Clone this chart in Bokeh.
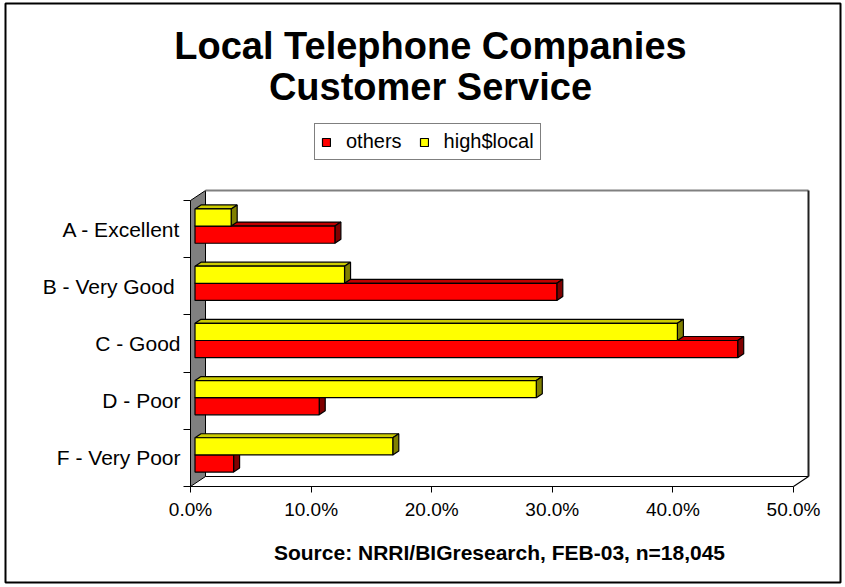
from bokeh.plotting import figure
from bokeh.models import (Range1d, FixedTicker, NumeralTickFormatter, Label,
                          Legend, LegendItem, BoxAnnotation, ColumnDataSource)
from bokeh.embed import file_html
from bokeh.resources import INLINE

# ---------------- data ----------------
categories = ["A - Excellent", "B -  Very Good", "C - Good", "D - Poor", "F - Very Poor"]
others = [0.116, 0.300, 0.450, 0.103, 0.032]
high_local = [0.030, 0.124, 0.400, 0.283, 0.164]
series_names = ["others", "high$local"]
x_ticks = [0.0, 0.1, 0.2, 0.3, 0.4, 0.5]
title_lines = ["Local Telephone Companies", "Customer Service"]
source_text = "Source: NRRI/BIGresearch, FEB-03, n=18,045"

# ---------------- layout helpers ----------------
W, H = 845, 587
X0_PX, X_PX_PER = 190.0, 1206.0     # pixel of 0 %, pixels per unit (100 %)
Y0_PX, Y_PX_PER = 486.0, 57.2       # pixel of bottom category edge, pixels per category


def px2x(px):
    return (px - X0_PX) / X_PX_PER


def py2y(py):
    return (Y0_PX - py) / Y_PX_PER


DX = 15.0 / X_PX_PER   # depth offset (x)
DY = 10.0 / Y_PX_PER   # depth offset (y)
FD, BD = 0.3, 0.7      # bar front / back depth fractions
BAR_H = 0.3
FONT = "Liberation Sans"

n = len(categories)
y_centers = [n - 0.5 - i for i in range(n)]
x_max = x_ticks[-1]

p = figure(width=W, height=H,
           x_range=Range1d(px2x(0), px2x(W)), y_range=Range1d(py2y(H), py2y(0)),
           min_border=0, toolbar_location=None, output_backend="svg",
           background_fill_color="white", border_fill_color="white")
p.outline_line_color = None
p.xgrid.visible = False
p.ygrid.visible = False

# ---------------- walls / floor ----------------
p.patch([0, DX, DX, 0], [0, DY, n + DY, n], fill_color="#808080",
        line_color="black", line_width=1)
p.segment(x0=[DX], y0=[n + DY], x1=[x_max + DX], y1=[n + DY],
          line_color="#808080", line_width=2)
p.segment(x0=[x_max + DX], y0=[n + DY], x1=[x_max + DX], y1=[DY],
          line_color="#202020", line_width=2)
p.segment(x0=[DX, x_max + DX, 0], y0=[DY, DY, 0],
          x1=[x_max + DX, x_max, x_max], y1=[DY, 0, 0],
          line_color="black", line_width=1.2)


# ---------------- 3D bars ----------------
def bar_faces(values, off):
    centers, lefts, rights = [], [], []
    top_xs, top_ys, side_xs, side_ys = [], [], [], []
    for v, yc in zip(values, y_centers):
        c = yc + off
        top = c + BAR_H / 2
        bot = c - BAR_H / 2
        centers.append(c + FD * DY)
        lefts.append(FD * DX)
        rights.append(v + FD * DX)
        top_xs.append([FD * DX, v + FD * DX, v + BD * DX, BD * DX])
        top_ys.append([top + FD * DY, top + FD * DY, top + BD * DY, top + BD * DY])
        side_xs.append([v + FD * DX, v + BD * DX, v + BD * DX, v + FD * DX])
        side_ys.append([bot + FD * DY, bot + BD * DY, top + BD * DY, top + FD * DY])
    front = ColumnDataSource(dict(y=centers, left=lefts, right=rights))
    return front, (top_xs, top_ys), (side_xs, side_ys)


series = [
    (others, -BAR_H / 2, "#FF0000", "#C00000", "#800000"),
    (high_local, BAR_H / 2, "#FFFF00", "#CCCC00", "#808000"),
]
front_renderers = []
for values, off, c_front, c_top, c_side in series:
    front, (txs, tys), (sxs, sys_) = bar_faces(values, off)
    p.patches(txs, tys, fill_color=c_top, line_color="black", line_width=1.2)
    p.patches(sxs, sys_, fill_color=c_side, line_color="black", line_width=1.2)
    r = p.hbar(y="y", left="left", right="right", height=BAR_H, source=front,
               fill_color=c_front, line_color="black", line_width=1.2)
    front_renderers.append(r)

# ---------------- axes ----------------
xa = p.xaxis[0]
xa.fixed_location = 0
xa.ticker = FixedTicker(ticks=x_ticks, minor_ticks=[])
xa.formatter = NumeralTickFormatter(format="0.0%")
xa.axis_line_color = None
xa.major_tick_out = 6
xa.major_tick_in = 0
xa.major_tick_line_color = "black"
xa.major_label_standoff = 6
xa.major_label_text_font = FONT
xa.major_label_text_font_size = "19px"
xa.major_label_text_color = "black"

ya = p.yaxis[0]
ya.fixed_location = 0
ya.ticker = FixedTicker(ticks=y_centers, minor_ticks=list(range(n + 1)))
ya.major_label_overrides = {yc: cat for yc, cat in zip(y_centers, categories)}
ya.axis_line_color = None
ya.major_tick_out = 0
ya.major_tick_in = 0
ya.minor_tick_out = 7
ya.minor_tick_in = 0
ya.minor_tick_line_color = "black"
ya.major_label_standoff = 3
ya.major_label_text_font = FONT
ya.major_label_text_font_size = "21px"
ya.major_label_text_color = "black"

# ---------------- title / source ----------------
for line, py in zip(title_lines, [45, 86]):
    p.add_layout(Label(x=px2x(430), y=py2y(py), text=line, text_align="center",
                       text_baseline="alphabetic", text_font=FONT,
                       text_font_style="bold", text_font_size="38px",
                       text_color="black"))
p.add_layout(Label(x=px2x(499), y=py2y(552), text=source_text, text_align="center",
                   text_baseline="alphabetic", text_font=FONT,
                   text_font_style="bold", text_font_size="21px",
                   text_color="black"))

# ---------------- legend ----------------
legend = Legend(items=[LegendItem(label=name, renderers=[r])
                       for name, r in zip(series_names, front_renderers)],
                orientation="horizontal", location=(314, H - 160),
                glyph_width=10, glyph_height=10, label_standoff=15, spacing=17,
                padding=6, margin=0,
                label_text_font=FONT, label_text_font_size="20px",
                label_text_color="black",
                border_line_color="black", border_line_width=1,
                background_fill_color="white", background_fill_alpha=1)
p.add_layout(legend)

# ---------------- outer frame ----------------
p.add_layout(BoxAnnotation(left=px2x(5), right=px2x(840), top=py2y(3), bottom=py2y(582),
                           fill_color=None, fill_alpha=0, line_color="black",
                           line_alpha=1, line_width=2))

open("out.html", "w").write(file_html(p, INLINE))
